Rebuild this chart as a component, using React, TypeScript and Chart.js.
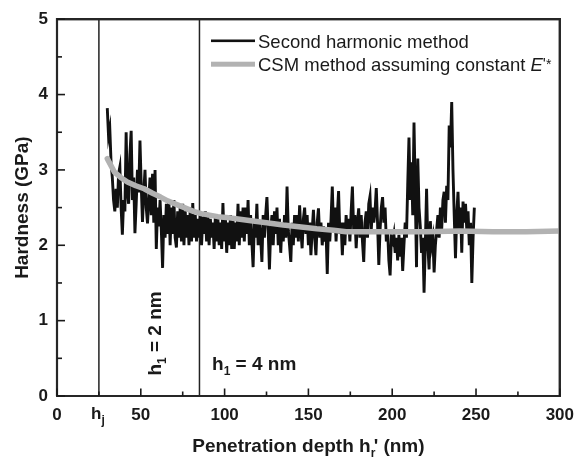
import React, { useEffect, useRef } from 'react';
import { Chart, registerables } from 'chart.js';

Chart.register(...registerables);

// ---- data ----
const xTickValues = [0, 50, 100, 150, 200, 250, 300];
const yTickValues = [0, 1, 2, 3, 4, 5];
const xRange = [0, 300];
const yRange = [0, 5];
const hjDepth = 25; // h_j line
const h4Depth = 85; // h1 = 4 nm line

const seriesLabels = ['Second harmonic method', "CSM method assuming constant E'*"];

const harmonicX = [
  30, 30.75, 31.5, 32.25, 33, 33.75, 34.5, 35.25, 36, 36.75,
  37.5, 38.25, 39, 39.75, 40.5, 41.25, 42, 42.75, 43.5, 44.25,
  45, 45.75, 46.5, 47.25, 48, 48.75, 49.5, 50.25, 51, 51.75,
  52.5, 53.25, 54, 54.75, 55.5, 56.25, 57, 57.75, 58.5, 59.25,
  60, 60.75, 61.5, 62.25, 63, 63.75, 64.5, 65.25, 66, 66.75,
  67.5, 68.25, 69, 69.75, 70.5, 71.25, 72, 72.75, 73.5, 74.25,
  75, 75.75, 76.5, 77.25, 78, 78.75, 79.5, 80.25, 81, 81.75,
  82.5, 83.25, 84, 84.75, 85.5, 86.25, 87, 87.75, 88.5, 89.25,
  90, 90.75, 91.5, 92.25, 93, 93.75, 94.5, 95.25, 96, 96.75,
  97.5, 98.25, 99, 99.75, 100.5, 101.25, 102, 102.75, 103.5, 104.25,
  105, 105.75, 106.5, 107.25, 108, 108.75, 109.5, 110.25, 111, 111.75,
  112.5, 113.25, 114, 114.75, 115.5, 116.25, 117, 117.75, 118.5, 119.25,
  120, 120.75, 121.5, 122.25, 123, 123.75, 124.5, 125.25, 126, 126.75,
  127.5, 128.25, 129, 129.75, 130.5, 131.25, 132, 132.75, 133.5, 134.25,
  135, 135.75, 136.5, 137.25, 138, 138.75, 139.5, 140.25, 141, 141.75,
  142.5, 143.25, 144, 144.75, 145.5, 146.25, 147, 147.75, 148.5, 149.25,
  150, 150.75, 151.5, 152.25, 153, 153.75, 154.5, 155.25, 156, 156.75,
  157.5, 158.25, 159, 159.75, 160.5, 161.25, 162, 162.75, 163.5, 164.25,
  165, 165.75, 166.5, 167.25, 168, 168.75, 169.5, 170.25, 171, 171.75,
  172.5, 173.25, 174, 174.75, 175.5, 176.25, 177, 177.75, 178.5, 179.25,
  180, 180.75, 181.5, 182.25, 183, 183.75, 184.5, 185.25, 186, 186.75,
  187.5, 188.25, 189, 189.75, 190.5, 191.25, 192, 192.75, 193.5, 194.25,
  195, 195.75, 196.5, 197.25, 198, 198.75, 199.5, 200.25, 201, 201.75,
  202.5, 203.25, 204, 204.75, 205.5, 206.25, 207, 207.75, 208.5, 209.25,
  210, 210.75, 211.5, 212.25, 213, 213.75, 214.5, 215.25, 216, 216.75,
  217.5, 218.25, 219, 219.75, 220.5, 221.25, 222, 222.75, 223.5, 224.25,
  225, 225.75, 226.5, 227.25, 228, 228.75, 229.5, 230.25, 231, 231.75,
  232.5, 233.25, 234, 234.75, 235.5, 236.25, 237, 237.75, 238.5, 239.25,
  240, 240.75, 241.5, 242.25, 243, 243.75, 244.5, 245.25, 246, 246.75,
  247.5, 248.25, 249,
];
const harmonicY = [
  3.82, 3.45, 3.55, 3.1, 2.9, 2.6, 2.45, 2.75, 2.5, 2.95,
  3.04, 2.5, 2.14, 2.6, 2.45, 3.5, 2.7, 2.55, 3.2, 3.52,
  2.6, 2.9, 2.16, 2.55, 3.0, 2.7, 3.39, 2.8, 2.31, 2.7,
  3.0, 2.5, 2.29, 2.6, 2.9, 2.4, 2.95, 2.3, 3.0, 1.95,
  2.5, 2.25, 2.6, 2.2, 1.7, 2.4, 2.1, 2.55, 2.15, 2.6,
  2.0, 2.5, 2.15, 2.6, 2.1, 1.97, 2.45, 2.1, 2.5, 2.05,
  2.55, 2.0, 2.45, 2.1, 2.4, 2.0, 2.5, 2.05, 2.56, 2.1,
  2.4, 2.05, 2.35, 2.1, 2.42, 2.0, 2.38, 2.15, 2.45, 2.05,
  2.37, 2.0, 2.35, 2.1, 2.3, 1.95, 2.4, 2.05, 2.35, 2.0,
  2.3, 1.95, 2.56, 2.05, 2.35, 1.9, 2.3, 2.0, 2.4, 1.95,
  2.35, 1.95, 2.3, 2.05, 2.55, 2.0, 2.45, 2.1, 2.5, 2.05,
  2.5, 2.15, 2.6, 2.0, 2.4, 2.05, 1.71, 2.3, 2.1, 2.55,
  2.0, 2.3, 2.1, 1.78, 2.4, 2.1, 2.4, 2.64, 2.2, 1.68,
  2.2, 2.4, 2.0, 2.45, 2.15, 2.5, 2.0, 2.35, 1.9, 2.3,
  2.05, 2.4, 2.1, 2.78, 2.2, 2.0, 1.78, 2.3, 2.0, 2.4,
  2.1, 2.4, 2.05, 2.53, 2.2, 1.96, 2.35, 2.5, 2.15, 2.4,
  2.0, 2.3, 1.87, 2.2, 2.47, 2.1, 1.87, 2.3, 2.49, 2.1,
  2.3, 2.0, 2.25, 2.05, 2.2, 1.62, 2.3, 2.05, 2.35, 2.78,
  2.2, 2.5, 2.05, 2.4, 2.72, 2.15, 2.3, 1.87, 2.3, 2.0,
  2.4, 2.15, 2.35, 2.05, 2.45, 2.78, 2.2, 2.4, 1.96, 2.3,
  2.49, 2.1, 2.4, 2.05, 1.78, 2.3, 2.45, 2.1, 2.55, 2.65,
  2.2, 2.5, 2.3, 2.45, 2.76, 2.3, 1.74, 2.2, 2.5, 2.64,
  2.3, 2.5, 2.05, 2.2, 1.8, 1.6, 2.1, 2.05, 2.15, 1.9,
  2.1, 1.8, 2.14, 1.85, 2.1, 1.66, 2.0, 2.3, 2.1, 2.8,
  3.43, 2.6, 3.1, 2.4, 3.63, 2.7, 1.71, 3.15, 2.5, 2.25,
  1.9, 2.1, 1.37, 2.0, 2.75, 2.0, 1.68, 2.32, 2.0, 2.1,
  1.64, 2.0, 2.2, 2.4, 2.1, 2.5, 2.2, 2.6, 2.71, 2.3,
  2.79, 2.6, 3.59, 3.3, 3.9, 3.0, 2.4, 1.83, 2.4, 2.71,
  2.2, 2.5, 1.9, 2.58, 2.3, 2.55, 2.2, 2.45, 2.0, 2.3,
  1.5, 2.1, 2.5,
];

const csmX = [30, 34.3, 38, 42, 47, 52, 57, 61.8, 66, 71.5, 76, 81.4, 86, 91, 96, 101, 108, 114.7, 125, 135, 143, 155, 165, 172.5, 185, 200, 220, 240, 260, 280, 300];
const csmY = [3.15, 2.97, 2.9, 2.84, 2.79, 2.75, 2.69, 2.64, 2.59, 2.54, 2.5, 2.45, 2.42, 2.4, 2.38, 2.37, 2.35, 2.33, 2.3, 2.27, 2.25, 2.22, 2.2, 2.18, 2.18, 2.18, 2.18, 2.19, 2.18, 2.18, 2.19];

// ---- style ----
const FONT = '"Liberation Sans", Arial, Helvetica, sans-serif';
const INK = '#1a1a1a';
const FRAME = '#262626';
const GRAY = '#b2b2b2';

type Part = { t: string; font: string; dy?: number; adv?: number };

function drawParts(ctx: CanvasRenderingContext2D, parts: Part[], x: number, y: number, align: 'left' | 'center') {
  const widths = parts.map((p) => {
    ctx.font = p.font;
    return p.adv !== undefined ? p.adv : ctx.measureText(p.t).width;
  });
  const total = widths.reduce((a, b) => a + b, 0);
  let cx = align === 'center' ? x - total / 2 : x;
  ctx.textAlign = 'left';
  ctx.textBaseline = 'alphabetic';
  parts.forEach((p, i) => {
    ctx.font = p.font;
    ctx.fillText(p.t, cx, y + (p.dy || 0));
    cx += widths[i];
  });
}

const decorPlugin = {
  id: 'decor',
  afterDraw(chart: any) {
    const { ctx, chartArea: a } = chart;
    const xs = chart.scales.x;
    const ys = chart.scales.y;
    ctx.save();
    // frame
    ctx.strokeStyle = FRAME;
    ctx.lineWidth = 2;
    ctx.strokeRect(a.left, a.top, a.right - a.left, a.bottom - a.top);
    ctx.fillStyle = INK;
    // inward ticks
    for (let v = 0; v <= 300; v += 25) {
      const px = xs.getPixelForValue(v);
      const len = v % 50 === 0 ? 7.5 : 4.5;
      ctx.fillRect(px - 0.8, a.bottom - len, 1.6, len);
    }
    for (let v = 0; v <= 5; v += 0.5) {
      const py = ys.getPixelForValue(v);
      const len = Number.isInteger(v) ? 8 : 5;
      ctx.fillRect(a.left, py - 0.8, len, 1.6);
    }
    // h_j tick label
    drawParts(
      ctx,
      [
        { t: 'h', font: `bold 17px ${FONT}` },
        { t: 'j', font: `bold 12px ${FONT}`, dy: 5 },
      ],
      xs.getPixelForValue(hjDepth) - 1,
      a.bottom + 23,
      'center'
    );
    // x-axis title
    const big = `bold 19px ${FONT}`;
    drawParts(
      ctx,
      [
        { t: 'Penetration depth h', font: big },
        { t: 'r', font: `bold 12px ${FONT}`, dy: 5, adv: 3 },
        { t: "'", font: big },
        { t: ' (nm)', font: big },
      ],
      (a.left + a.right) / 2,
      452,
      'center'
    );
    // annotation h1 = 4 nm
    drawParts(
      ctx,
      [
        { t: 'h', font: big },
        { t: '1', font: `bold 12px ${FONT}`, dy: 5 },
        { t: ' = 4 nm', font: big },
      ],
      xs.getPixelForValue(92.5),
      ys.getPixelForValue(0.34),
      'left'
    );
    // annotation h1 = 2 nm (vertical)
    ctx.save();
    ctx.translate(xs.getPixelForValue(57.8), ys.getPixelForValue(0.83));
    ctx.rotate(-Math.PI / 2);
    drawParts(
      ctx,
      [
        { t: 'h', font: big },
        { t: '1', font: `bold 12px ${FONT}`, dy: 5 },
        { t: ' = 2 nm', font: big },
      ],
      0,
      7,
      'center'
    );
    ctx.restore();
    // legend
    const lx0 = a.left + 154;
    const lx1 = a.left + 198;
    const ly1 = a.top + 21.6;
    const ly2 = a.top + 45;
    ctx.fillStyle = '#111';
    ctx.fillRect(lx0, ly1 - 1.3, lx1 - lx0, 2.6);
    ctx.fillStyle = GRAY;
    ctx.fillRect(lx0, ly2 - 2.5, lx1 - lx0, 5);
    ctx.fillStyle = INK;
    const reg = `18.5px ${FONT}`;
    drawParts(ctx, [{ t: seriesLabels[0], font: reg }], lx1 + 3, ly1 + 7, 'left');
    drawParts(
      ctx,
      [
        { t: 'CSM method assuming constant ', font: reg },
        { t: 'E', font: `italic 18.5px ${FONT}` },
        { t: "'", font: `16px ${FONT}`, dy: -1 },
        { t: '*', font: `14px ${FONT}`, dy: -2 },
      ],
      lx1 + 3,
      ly2 + 7,
      'left'
    );
    ctx.restore();
  },
};

export default function App() {
  const ref = useRef<HTMLCanvasElement | null>(null);
  useEffect(() => {
    document.body.style.margin = '0';
    if (!ref.current) return;
    const tickFont = { family: FONT, size: 17, weight: 'bold' as const };
    const frame = [
      { x: xRange[0], y: yRange[0] },
      { x: xRange[1], y: yRange[0] },
      { x: xRange[1], y: yRange[1] },
      { x: xRange[0], y: yRange[1] },
      { x: xRange[0], y: yRange[0] },
    ];
    const chart = new Chart(ref.current, {
      type: 'line',
      data: {
        datasets: [
          {
            label: seriesLabels[1],
            data: csmX.map((x, i) => ({ x, y: csmY[i] })),
            borderColor: GRAY,
            borderWidth: 5.5,
            pointRadius: 0,
            borderCapStyle: 'round',
            borderJoinStyle: 'round',
            order: 0,
          },
          {
            label: seriesLabels[0],
            data: harmonicX.map((x, i) => ({ x, y: harmonicY[i] })),
            borderColor: '#111',
            borderWidth: 2.9,
            pointRadius: 0,
            order: 1,
          },
          {
            label: 'hj',
            data: [
              { x: hjDepth, y: yRange[0] },
              { x: hjDepth, y: yRange[1] },
            ],
            borderColor: '#222',
            borderWidth: 1.5,
            pointRadius: 0,
            order: 2,
          },
          {
            label: 'h1',
            data: [
              { x: h4Depth, y: yRange[0] },
              { x: h4Depth, y: yRange[1] },
            ],
            borderColor: '#222',
            borderWidth: 1.5,
            pointRadius: 0,
            order: 2,
          },
          {
            label: 'frame',
            data: frame,
            borderColor: FRAME,
            borderWidth: 2.2,
            pointRadius: 0,
            clip: 4,
            order: 3,
            borderJoinStyle: 'miter',
          },
        ],
      },
      options: {
        animation: false,
        responsive: false,
        layout: { padding: { top: 17, right: 15, left: 0, bottom: 0 } },
        plugins: { legend: { display: false }, tooltip: { enabled: false } },
        scales: {
          x: {
            type: 'linear',
            min: xRange[0],
            max: xRange[1],
            afterBuildTicks: (s: any) => {
              s.ticks = xTickValues.map((v) => ({ value: v }));
            },
            afterFit: (s: any) => {
              s.height = 65;
            },
            grid: { display: false, drawTicks: false },
            border: { display: false },
            ticks: {
              autoSkip: false,
              maxRotation: 0,
              padding: 9,
              color: INK,
              font: tickFont,
              callback: (v: any) => String(v),
            },
          },
          y: {
            type: 'linear',
            min: yRange[0],
            max: yRange[1],
            afterBuildTicks: (s: any) => {
              s.ticks = yTickValues.map((v) => ({ value: v }));
            },
            afterFit: (s: any) => {
              s.width = 57;
            },
            grid: { display: false, drawTicks: false },
            border: { display: false },
            ticks: { padding: 9, color: INK, font: tickFont, callback: (v: any) => String(v) },
            title: {
              display: true,
              text: 'Hardness (GPa)',
              color: INK,
              font: { family: FONT, size: 19, weight: 'bold' },
              padding: { top: 11, bottom: 0 },
            },
          },
        },
      },
      plugins: [decorPlugin],
    } as any);
    return () => chart.destroy();
  }, []);
  return (
    <div style={{ width: 583, height: 461 }}>
      <canvas ref={ref} width={583} height={461} style={{ display: 'block' }} />
    </div>
  );
}
